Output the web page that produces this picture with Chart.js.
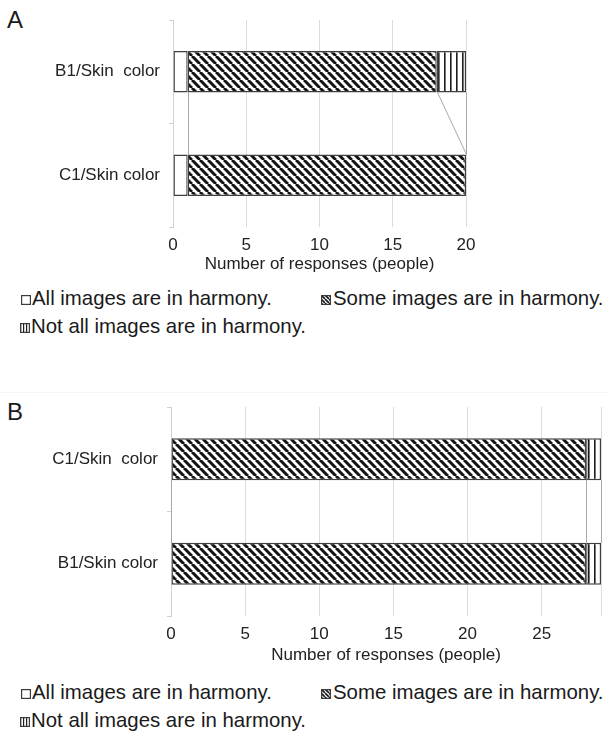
<!DOCTYPE html>
<html>
<head>
<meta charset="utf-8">
<script src="https://cdn.jsdelivr.net/npm/chart.js@4.4.0/dist/chart.umd.min.js"></script>
<style>
  html, body { margin: 0; padding: 0; background: #fff; }
  body { width: 609px; height: 734px; position: relative; overflow: hidden;
         font-family: "Liberation Sans", Arial, Helvetica, sans-serif; color: #222; }
  .letter { position: absolute; left: 7px; font-size: 24px; line-height: 24px; color: #1a1a1a; }
  .wrap { position: absolute; left: 0; width: 609px; }
  .wrap canvas { display: block; }
  .leg { position: absolute; font-size: 20.4px; line-height: 20px; white-space: nowrap; color: #1a1a1a; }
  .ico { position: absolute; display: block; }
  .sep { position: absolute; left: 0; width: 609px; top: 392px; height: 1px; background: #f5f5f5; }
</style>
</head>
<body>
<div class="letter" style="top:8px">A</div>
<div class="wrap" style="top:0;height:282px"><canvas id="chartA" width="609" height="282"></canvas></div>

<canvas class="ico" id="icoA0" width="10" height="10" style="left:21px;top:295px"></canvas>
<div class="leg" id="legA0" style="left:32px;top:288px"></div>
<canvas class="ico" id="icoA1" width="10" height="10" style="left:321px;top:295px"></canvas>
<div class="leg" id="legA1" style="left:333px;top:288px"></div>
<canvas class="ico" id="icoA2" width="10" height="10" style="left:20px;top:323px"></canvas>
<div class="leg" id="legA2" style="left:31px;top:316px"></div>

<div class="sep"></div>

<div class="letter" style="top:400px">B</div>
<div class="wrap" style="top:380px;height:300px"><canvas id="chartB" width="609" height="300"></canvas></div>

<canvas class="ico" id="icoB0" width="10" height="10" style="left:21px;top:689px"></canvas>
<div class="leg" id="legB0" style="left:32px;top:682px"></div>
<canvas class="ico" id="icoB1" width="10" height="10" style="left:321px;top:689px"></canvas>
<div class="leg" id="legB1" style="left:333px;top:682px"></div>
<canvas class="ico" id="icoB2" width="10" height="10" style="left:20px;top:717px"></canvas>
<div class="leg" id="legB2" style="left:31px;top:710px"></div>

<script>
// Survey answers per stimulus pair (number of people)
const seriesNames = ['All images are in harmony.', 'Some images are in harmony.', 'Not all images are in harmony.'];
const axisTitle = 'Number of responses (people)';

const categoriesA = ['B1/Skin  color', 'C1/Skin color'];
const allHarmonyA = [1, 1];
const someHarmonyA = [17, 19];
const notAllHarmonyA = [2, 0];
const axisMaxA = 20;

const categoriesB = ['C1/Skin  color', 'B1/Skin color'];
const allHarmonyB = [0, 0];
const someHarmonyB = [28, 28];
const notAllHarmonyB = [1, 1];
const axisMaxB = 29;

const tickStep = 5;

// Fill patterns used for the bar segments
function makeHatch(ctx, size, width) {
  const c = document.createElement('canvas');
  c.width = size; c.height = size;
  const g = c.getContext('2d');
  g.fillStyle = '#fff'; g.fillRect(0, 0, size, size);
  g.strokeStyle = '#141414'; g.lineWidth = width;
  g.beginPath();
  for (const o of [-size, 0, size]) { g.moveTo(o, 0); g.lineTo(o + size, size); }
  g.stroke();
  return ctx.createPattern(c, 'repeat');
}
function makeStripes(ctx, step, width) {
  const c = document.createElement('canvas');
  c.width = step; c.height = 4;
  const g = c.getContext('2d');
  g.fillStyle = '#fff'; g.fillRect(0, 0, step, 4);
  g.fillStyle = '#1e1e1e'; g.fillRect(0, 0, width, 4);
  return ctx.createPattern(c, 'repeat');
}

// Grey series lines joining the segment ends of neighbouring bars
const seriesLines = {
  id: 'seriesLines',
  beforeDatasetsDraw(chart) {
    const { ctx } = chart;
    const x = chart.scales.x;
    const n = chart.data.labels.length;
    ctx.save();
    ctx.strokeStyle = '#a8a8a8';
    ctx.lineWidth = 1;
    for (let i = 0; i < n - 1; i++) {
      let cum1 = 0, cum2 = 0;
      chart.data.datasets.forEach((ds, k) => {
        cum1 += ds.data[i]; cum2 += ds.data[i + 1];
        const meta = chart.getDatasetMeta(k);
        const e1 = meta.data[i], e2 = meta.data[i + 1];
        const y1 = e1.y + e1.height / 2;
        const y2 = e2.y - e2.height / 2;
        ctx.beginPath();
        ctx.moveTo(Math.round(x.getPixelForValue(cum1)) + 0.5, y1);
        ctx.lineTo(Math.round(x.getPixelForValue(cum2)) + 0.5, y2);
        ctx.stroke();
      });
    }
    ctx.restore();
  }
};

function buildChart(id, labels, all, some, notAll, max, geom) {
  const canvas = document.getElementById(id);
  const ctx = canvas.getContext('2d');
  const hatch = makeHatch(ctx, 8, 3);
  const stripes = makeStripes(ctx, 6, 1.6);
  const bw = c => (c.raw === 0 ? 0 : 1.4);
  const common = { borderColor: '#404040', borderWidth: bw, borderSkipped: false,
                   barPercentage: 0.4, categoryPercentage: 1 };
  return new Chart(ctx, {
    type: 'bar',
    data: {
      labels,
      datasets: [
        Object.assign({ label: seriesNames[0], data: all, backgroundColor: '#ffffff' }, common),
        Object.assign({ label: seriesNames[1], data: some, backgroundColor: hatch }, common),
        Object.assign({ label: seriesNames[2], data: notAll, backgroundColor: stripes }, common)
      ]
    },
    options: {
      indexAxis: 'y',
      responsive: false,
      animation: false,
      devicePixelRatio: 1,
      layout: { padding: { left: 0, right: geom.right, top: geom.top, bottom: 0 } },
      plugins: { legend: { display: false }, tooltip: { enabled: false } },
      scales: {
        x: {
          stacked: true, min: 0, max: max,
          ticks: { stepSize: tickStep, color: '#222', font: { size: 17, family: '"Liberation Sans", Arial' },
                   padding: 8, maxRotation: 0,
                   callback: v => (v % tickStep === 0 ? v : '') },
          grid: { color: '#dcdcdc', lineWidth: 1, drawTicks: false },
          border: { display: false },
          title: { display: true, text: axisTitle, color: '#222',
                   font: { size: 17, family: '"Liberation Sans", Arial' },
                   padding: { top: 0, bottom: geom.titlePad } },
          afterFit: s => { s.height = geom.xHeight; }
        },
        y: {
          stacked: true,
          ticks: { color: '#222', font: { size: 17, family: '"Liberation Sans", Arial' }, padding: 9 },
          grid: { display: true, drawOnChartArea: false, tickLength: 4, color: '#cfcfcf', offset: true },
          border: { display: true, color: '#d2d2d2', width: 1 },
          afterFit: s => { s.width = geom.yWidth; }
        }
      }
    },
    plugins: [seriesLines]
  });
}

buildChart('chartA', categoriesA, allHarmonyA, someHarmonyA, notAllHarmonyA, axisMaxA,
           { right: 143, top: 20, xHeight: 55, titlePad: 7, yWidth: 173 });
buildChart('chartB', categoriesB, allHarmonyB, someHarmonyB, notAllHarmonyB, axisMaxB,
           { right: 7, top: 27, xHeight: 64, titlePad: 14, yWidth: 171 });

// Legend rows below each chart
function drawIcon(id, kind) {
  const c = document.getElementById(id);
  const g = c.getContext('2d');
  g.fillStyle = '#fff'; g.fillRect(0, 0, 10, 10);
  if (kind === 1) {
    g.fillStyle = makeHatch(g, 4, 1.6); g.fillRect(1, 1, 8, 8);
  } else if (kind === 2) {
    g.fillStyle = makeStripes(g, 3, 1.2); g.fillRect(1, 1, 8, 8);
  }
  g.strokeStyle = '#3c3c3c'; g.lineWidth = 1.2;
  g.strokeRect(0.6, 0.6, 8.8, 8.8);
}
['A', 'B'].forEach(p => {
  seriesNames.forEach((name, k) => {
    document.getElementById('leg' + p + k).textContent = name;
    drawIcon('ico' + p + k, k);
  });
});
</script>
</body>
</html>
